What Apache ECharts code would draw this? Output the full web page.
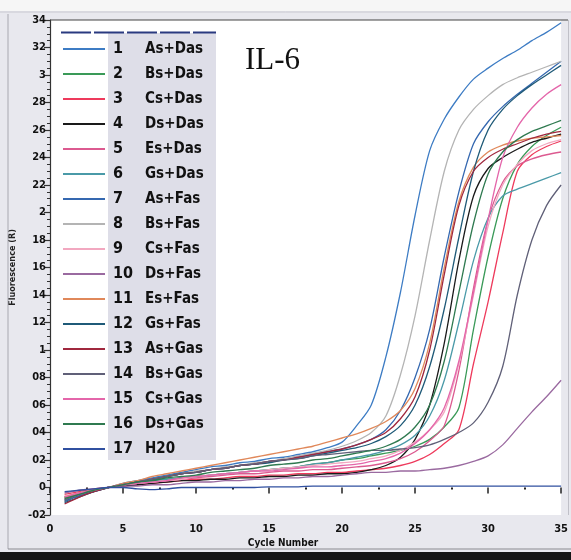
<!DOCTYPE html>
<html><head><meta charset="utf-8">
<script src="https://cdn.jsdelivr.net/npm/echarts@6/dist/echarts.min.js"></script>
<style>html,body{margin:0;padding:0;background:#e8e8ee}#c{width:571px;height:560px}</style>
</head><body><div id="c"></div>
<script>
const cycles = [1,2,3,4,5,6,7,8,9,10,11,12,13,14,15,16,17,18,19,20,21,22,23,24,25,26,27,28,29,30,31,32,33,34,35];
const xTicks = [0,5,10,15,20,25,30,35];
const yTickLabels = ["-02","0","02","04","06","08","1","12","14","16","18","2","22","24","26","28","3","32","34"];
const sampleNums = ["1","2","3","4","5","6","7","8","9","10","11","12","13","14","15","16","17"];
const sampleNames = ["As+Das","Bs+Das","Cs+Das","Ds+Das","Es+Das","Gs+Das","As+Fas","Bs+Fas","Cs+Fas","Ds+Fas","Es+Fas","Gs+Fas","As+Gas","Bs+Gas","Cs+Gas","Ds+Gas","H20"];
const sampleColors = ["#3d7cc4","#3a9a58","#ee3a5c","#1a1a1a","#dc5a90","#4a9aa8","#3568b0","#b4b4b4","#f2a8c0","#9a6aa0","#e0885a","#1f5a78","#a0283e","#606078","#e466aa","#2f7a50","#3050a0"];

const s1  = [-0.09,-0.05,-0.02,0.0,0.03,0.05,0.07,0.09,0.11,0.13,0.15,0.16,0.18,0.19,0.21,0.22,0.24,0.26,0.29,0.33,0.45,0.6,0.95,1.42,1.98,2.45,2.68,2.84,2.97,3.05,3.12,3.18,3.25,3.31,3.38];
const s2  = [-0.07,-0.04,-0.02,0.0,0.02,0.03,0.05,0.06,0.07,0.08,0.09,0.1,0.11,0.12,0.13,0.14,0.15,0.17,0.18,0.2,0.21,0.23,0.25,0.27,0.3,0.35,0.44,0.58,1.15,1.68,2.1,2.35,2.48,2.56,2.62];
const s3  = [-0.05,-0.03,-0.01,0.0,0.01,0.02,0.03,0.04,0.05,0.06,0.06,0.07,0.08,0.08,0.09,0.09,0.1,0.1,0.11,0.11,0.12,0.13,0.14,0.16,0.19,0.24,0.32,0.42,0.9,1.35,1.85,2.3,2.42,2.48,2.52];
const s4  = [-0.1,-0.06,-0.03,0.0,0.01,0.02,0.03,0.04,0.05,0.05,0.06,0.06,0.07,0.07,0.08,0.08,0.09,0.09,0.1,0.1,0.11,0.13,0.16,0.22,0.35,0.6,1.05,1.65,2.12,2.32,2.4,2.46,2.51,2.54,2.57];
const s5  = [-0.08,-0.05,-0.02,0.0,0.02,0.03,0.04,0.05,0.06,0.07,0.08,0.09,0.1,0.1,0.11,0.12,0.12,0.13,0.13,0.14,0.15,0.16,0.18,0.21,0.26,0.34,0.45,0.85,1.45,1.95,2.22,2.34,2.39,2.42,2.44];
const s6  = [-0.07,-0.04,-0.02,0.0,0.02,0.03,0.05,0.06,0.07,0.08,0.09,0.1,0.11,0.12,0.13,0.14,0.15,0.17,0.18,0.2,0.22,0.24,0.27,0.31,0.38,0.52,0.78,1.2,1.65,1.96,2.12,2.17,2.21,2.25,2.29];
const s7  = [-0.1,-0.06,-0.03,0.0,0.02,0.04,0.06,0.08,0.1,0.11,0.13,0.14,0.16,0.17,0.19,0.2,0.22,0.24,0.26,0.28,0.31,0.35,0.42,0.56,0.8,1.15,1.68,2.15,2.5,2.66,2.77,2.86,2.94,3.02,3.1];
const s8  = [-0.08,-0.05,-0.02,0.0,0.02,0.04,0.06,0.08,0.1,0.12,0.13,0.15,0.16,0.18,0.19,0.21,0.23,0.25,0.27,0.3,0.34,0.4,0.52,0.82,1.25,1.8,2.3,2.6,2.75,2.85,2.93,2.98,3.02,3.06,3.1];
const s9  = [-0.06,-0.04,-0.02,0.0,0.02,0.03,0.04,0.05,0.06,0.08,0.09,0.1,0.11,0.12,0.13,0.14,0.15,0.16,0.17,0.18,0.19,0.21,0.23,0.27,0.33,0.42,0.55,0.9,1.4,1.9,2.2,2.35,2.45,2.5,2.53];
const s10 = [-0.04,-0.02,-0.01,0.0,0.01,0.01,0.02,0.02,0.03,0.04,0.04,0.05,0.05,0.06,0.06,0.07,0.07,0.08,0.08,0.09,0.1,0.11,0.11,0.12,0.12,0.13,0.14,0.16,0.19,0.23,0.31,0.43,0.55,0.66,0.78];
const s11 = [-0.07,-0.04,-0.02,0.0,0.03,0.05,0.08,0.1,0.12,0.14,0.16,0.18,0.2,0.22,0.24,0.26,0.28,0.3,0.33,0.36,0.39,0.43,0.48,0.56,0.72,1.05,1.6,2.08,2.33,2.44,2.49,2.52,2.54,2.55,2.56];
const s12 = [-0.11,-0.07,-0.03,0.0,0.02,0.04,0.06,0.08,0.1,0.11,0.13,0.14,0.16,0.17,0.18,0.2,0.21,0.23,0.25,0.27,0.29,0.32,0.37,0.45,0.6,0.88,1.3,1.82,2.3,2.6,2.75,2.85,2.93,3.0,3.07];
const s13 = [-0.12,-0.07,-0.03,0.0,0.02,0.04,0.06,0.08,0.1,0.11,0.13,0.14,0.16,0.17,0.19,0.2,0.22,0.24,0.26,0.28,0.31,0.35,0.4,0.5,0.66,1.0,1.55,2.05,2.3,2.4,2.46,2.5,2.54,2.57,2.59];
const s14 = [-0.09,-0.05,-0.02,0.0,0.02,0.04,0.06,0.08,0.1,0.11,0.13,0.14,0.16,0.17,0.19,0.2,0.21,0.23,0.24,0.25,0.26,0.27,0.27,0.28,0.29,0.31,0.35,0.4,0.47,0.62,0.88,1.4,1.8,2.05,2.2];
const s15 = [-0.07,-0.04,-0.02,0.0,0.02,0.03,0.04,0.05,0.07,0.08,0.09,0.1,0.11,0.12,0.12,0.13,0.14,0.15,0.15,0.16,0.17,0.19,0.21,0.25,0.32,0.42,0.58,0.92,1.42,1.95,2.4,2.62,2.76,2.86,2.93];
const s16 = [-0.08,-0.05,-0.02,0.0,0.02,0.04,0.05,0.07,0.08,0.09,0.11,0.12,0.13,0.14,0.16,0.17,0.18,0.2,0.21,0.23,0.25,0.27,0.3,0.35,0.44,0.6,0.92,1.42,1.92,2.28,2.44,2.53,2.59,2.63,2.67];
const s17 = [-0.03,-0.02,-0.01,0.0,0.0,-0.01,-0.015,-0.01,0.0,0.0,0.0,0.0,0.0,0.0,0.005,0.005,0.005,0.01,0.01,0.01,0.01,0.01,0.01,0.01,0.01,0.01,0.01,0.01,0.01,0.01,0.01,0.01,0.01,0.01,0.01];
const seriesValues = [s1,s2,s3,s4,s5,s6,s7,s8,s9,s10,s11,s12,s13,s14,s15,s16,s17];

const NARROW = "'Liberation Sans Narrow','DejaVu Sans Condensed','Arial Narrow',sans-serif";
const chart = echarts.init(document.getElementById('c'), null, {renderer:'canvas'});

const series = seriesValues.map((vals, i) => ({
  name: sampleNames[i],
  type: 'line',
  data: cycles.map((c, j) => [c, vals[j]]),
  showSymbol: false,
  symbol: 'none',
  smooth: 0.3,
  lineStyle: {width: 1.3, color: sampleColors[i]},
  itemStyle: {color: sampleColors[i]},
  emphasis: {disabled: true},
  animation: false,
  z: 3
}));

const numByName = {};
sampleNames.forEach((n, i) => numByName[n] = sampleNums[i]);

chart.setOption({
  backgroundColor: '#e8e8ee',
  animation: false,
  title: {
    text: 'IL-6', left: 240, top: 40,
    textStyle: {fontFamily: "'Liberation Serif','DejaVu Serif',serif", fontSize: 31, fontWeight: 'normal', color: '#111'}
  },
  grid: {left: 50, right: 3, top: 20, bottom: 45, show: true, backgroundColor: '#ffffff', borderWidth: 0},
  legend: {
    orient: 'vertical', left: 63, top: 41, padding: 0, icon: 'rect', itemWidth: 42, itemHeight: 2, itemGap: 9,
    selectedMode: false, z: 5,
    data: sampleNames,
    formatter: name => '{n|' + numByName[name] + '}{s|' + name + '}',
    textStyle: {
      fontFamily: NARROW, fontWeight: 'bold', fontSize: 16, color: '#111', lineHeight: 16,
      rich: {
        n: {width: 32, padding: [0, 0, 0, 3], fontFamily: NARROW, fontWeight: 'bold', fontSize: 16, color: '#111', lineHeight: 16},
        s: {fontFamily: NARROW, fontWeight: 'bold', fontSize: 15, color: '#111', lineHeight: 16}
      }
    }
  },
  xAxis: {
    type: 'value', min: 0, max: 35, interval: 5,
    axisLine: {show: false},
    axisTick: {show: true, length: 6, lineStyle: {color: '#222', width: 1.5}},
    minorTick: {show: true, splitNumber: 2, length: 2, lineStyle: {color: '#222', width: 2}},
    splitLine: {show: false},
    axisLabel: {fontFamily: NARROW, fontWeight: 'bold', fontSize: 11, color: '#111', margin: 9,
      formatter: v => xTicks.indexOf(v) >= 0 ? String(v) : ''}
  },
  yAxis: {
    type: 'value', min: -0.2, max: 3.4, interval: 0.2,
    name: 'Fluorescence (R)', nameLocation: 'middle', nameGap: 27, nameRotate: 90,
    nameTextStyle: {fontFamily: NARROW, fontSize: 9, fontWeight: 'bold', color: '#222'},
    axisLine: {show: true, lineStyle: {color: '#333', width: 1.2}},
    axisTick: {show: true, length: 6, lineStyle: {color: '#333', width: 1.2}},
    minorTick: {show: true, splitNumber: 4, length: 3, lineStyle: {color: '#333'}},
    splitLine: {show: false},
    axisLabel: {fontFamily: NARROW, fontWeight: 'bold', fontSize: 11, color: '#111', margin: 4,
      formatter: v => yTickLabels[Math.round((v + 0.2) / 0.2)]}
  },
  graphic: [
    {type: 'rect', z: 0, silent: true, shape: {x: 0, y: 0, width: 571, height: 11}, style: {fill: '#f6f6f6'}},
    {type: 'line', z: 1, silent: true, shape: {x1: 0, y1: 12, x2: 571, y2: 12}, style: {stroke: '#c8c8d0', lineWidth: 1}},
    {type: 'line', z: 1, silent: true, shape: {x1: 8, y1: 14, x2: 8, y2: 549}, style: {stroke: '#a8a8b0', lineWidth: 1}},
    {type: 'line', z: 4, silent: true, shape: {x1: 50, y1: 20, x2: 568, y2: 20}, style: {stroke: '#444', lineWidth: 1.2}},
    {type: 'line', z: 1, silent: true, shape: {x1: 568.5, y1: 20, x2: 568.5, y2: 515}, style: {stroke: '#c0c0c8', lineWidth: 1}},
    {type: 'rect', z: 1, silent: true, shape: {x: 61, y: 33, width: 47, height: 427}, style: {fill: '#ffffff'}},
    {type: 'rect', z: 1, silent: true, shape: {x: 108, y: 33, width: 108, height: 427}, style: {fill: '#dedee8'}},
    {type: 'line', z: 4, silent: true, shape: {x1: 61, y1: 32.5, x2: 216, y2: 32.5}, style: {stroke: '#2a3a80', lineWidth: 2, lineDash: [30, 3]}},
    {type: 'text', z: 4, silent: true, x: 283, y: 543, style: {text: 'Cycle Number', fontFamily: NARROW, fontWeight: 'bold', fontSize: 10, fill: '#111', align: 'center', verticalAlign: 'middle'}},
    {type: 'line', z: 1, silent: true, shape: {x1: 8, y1: 549, x2: 571, y2: 549}, style: {stroke: '#8a8a90', lineWidth: 1}},
    {type: 'rect', z: 1, silent: true, shape: {x: 0, y: 552, width: 571, height: 8}, style: {fill: '#151515'}}
  ],
  series: series
});
</script></body></html>
